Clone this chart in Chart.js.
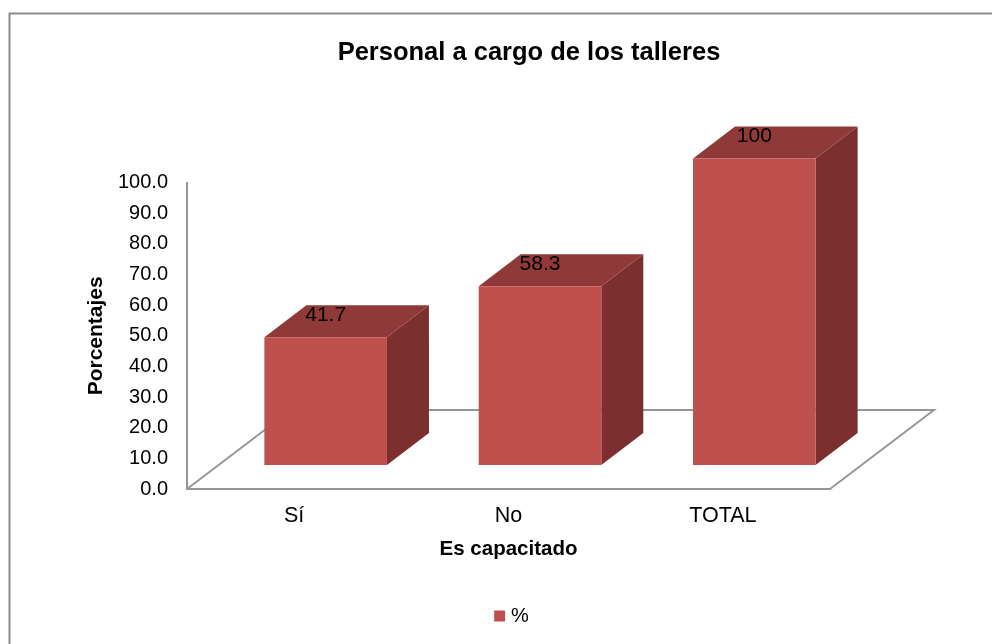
<!DOCTYPE html>
<html>
<head>
<meta charset="utf-8">
<script src="https://cdn.jsdelivr.net/npm/chart.js@4"></script>
<style>
  html, body { margin: 0; padding: 0; background: #fff; }
  #wrap { width: 992px; height: 644px; }
</style>
</head>
<body>
<div id="wrap"><canvas id="chart"></canvas></div>
<script>
// Chart data
const categories = ['Sí', 'No', 'TOTAL'];
const seriesName = '%';
const values = [41.7, 58.3, 100];
const valueLabels = ['41.7', '58.3', '100'];

const FONT = '"Liberation Sans", Arial, sans-serif';
const GREY = '#969696';
const BAR_COLOR = '#c0504d';

// 3D look: the bars sit this far into the floor, and have this much depth
const barShift = { x: 31.5, y: -24 };
const barDepth = { x: 42, y: -32 };
const floorDepth = { x: 104, y: -79 };

function poly(ctx, pts, fill) {
  ctx.beginPath();
  pts.forEach((p, i) => i ? ctx.lineTo(p[0], p[1]) : ctx.moveTo(p[0], p[1]));
  ctx.closePath();
  ctx.fillStyle = fill;
  ctx.fill();
}

const threeD = {
  id: 'threeD',
  afterLayout(chart) {
    // title and legend are not centred on the canvas in the original
    const t = chart.titleBlock, l = chart.legend;
    const tShift = 529 - (t.left + t.right) / 2;
    t.left += tShift; t.right += tShift;
    const lShift = 513.5 - (l.left + l.right) / 2;
    l.left += lShift; l.right += lShift;
  },
  beforeDatasetsDraw(chart) {
    const { ctx, scales: { x, y } } = chart;
    // outer frame, only top and left are inside the picture
    ctx.save();
    ctx.strokeStyle = '#8c8c8c';
    ctx.lineWidth = 2;
    ctx.beginPath();
    ctx.moveTo(9.5, 644);
    ctx.lineTo(9.5, 13.5);
    ctx.lineTo(992, 13.5);
    ctx.stroke();

    // floor
    ctx.strokeStyle = GREY;
    ctx.lineWidth = 2;
    ctx.beginPath();
    ctx.moveTo(x.left, y.bottom);
    ctx.lineTo(x.left + floorDepth.x, y.bottom + floorDepth.y);
    ctx.lineTo(x.right + floorDepth.x, y.bottom + floorDepth.y);
    ctx.lineTo(x.right, y.bottom);
    ctx.stroke();
    ctx.restore();

    ctx.save();
    ctx.translate(barShift.x, barShift.y);
    chart.getDatasetMeta(0).data.forEach(bar => {
      const l = bar.x - bar.width / 2, r = bar.x + bar.width / 2;
      const dx = barDepth.x, dy = barDepth.y;
      poly(ctx, [[r, bar.y], [r + dx, bar.y + dy], [r + dx, bar.base + dy], [r, bar.base]], '#7b302f');
      poly(ctx, [[l, bar.y], [l + dx, bar.y + dy], [r + dx, bar.y + dy], [r, bar.y]], '#8f3a39');
    });
  },
  afterDatasetsDraw(chart) {
    const { ctx } = chart;
    ctx.fillStyle = '#000';
    ctx.font = '21px ' + FONT;
    ctx.textAlign = 'center';
    ctx.textBaseline = 'middle';
    chart.getDatasetMeta(0).data.forEach((bar, i) => {
      ctx.fillText(valueLabels[i], bar.x, bar.y - 22);
    });
    ctx.restore();
  }
};

new Chart(document.getElementById('chart'), {
  type: 'bar',
  data: {
    labels: categories,
    datasets: [{
      label: seriesName,
      data: values,
      backgroundColor: BAR_COLOR,
      borderWidth: 0,
      categoryPercentage: 1,
      barPercentage: 0.572,
      clip: false
    }]
  },
  options: {
    responsive: true,
    maintainAspectRatio: false,
    animation: false,
    layout: { padding: { left: 83, right: 162, top: 38, bottom: 8 } },
    plugins: {
      title: {
        display: true,
        text: 'Personal a cargo de los talleres',
        color: '#000',
        font: { family: FONT, size: 25.5, weight: 'bold' },
        padding: { top: 0, bottom: 114 }
      },
      legend: {
        position: 'bottom',
        labels: {
          color: '#000',
          font: { family: FONT, size: 20 },
          boxWidth: 3,
          boxHeight: 3,
          padding: 10,
          // thick stroke around a small box keeps the box close to the text
          generateLabels: () => [{
            text: seriesName,
            fillStyle: BAR_COLOR,
            strokeStyle: BAR_COLOR,
            lineWidth: 8,
            lineJoin: 'miter',
            datasetIndex: 0
          }]
        }
      },
      tooltip: { enabled: false }
    },
    scales: {
      x: {
        afterFit: s => { s.height = 107; },
        grid: { display: false, drawTicks: false },
        border: { color: GREY, width: 2 },
        ticks: { color: '#000', font: { family: FONT, size: 21.5 }, padding: 14, maxRotation: 0 },
        title: {
          display: true,
          text: 'Es capacitado',
          color: '#000',
          font: { family: FONT, size: 20.5, weight: 'bold' },
          padding: { top: 9, bottom: 34 }
        }
      },
      y: {
        afterFit: s => { s.width = 104; },
        min: 0,
        max: 100,
        grid: { display: false, drawTicks: false },
        border: { color: GREY, width: 2 },
        ticks: {
          stepSize: 10,
          color: '#000',
          font: { family: FONT, size: 20 },
          padding: 19,
          callback: v => v.toFixed(1)
        },
        title: {
          display: true,
          text: 'Porcentajes',
          color: '#000',
          font: { family: FONT, size: 21, weight: 'bold' },
          padding: { top: 1, bottom: 8 }
        }
      }
    }
  },
  plugins: [threeD]
});
</script>
</body>
</html>
